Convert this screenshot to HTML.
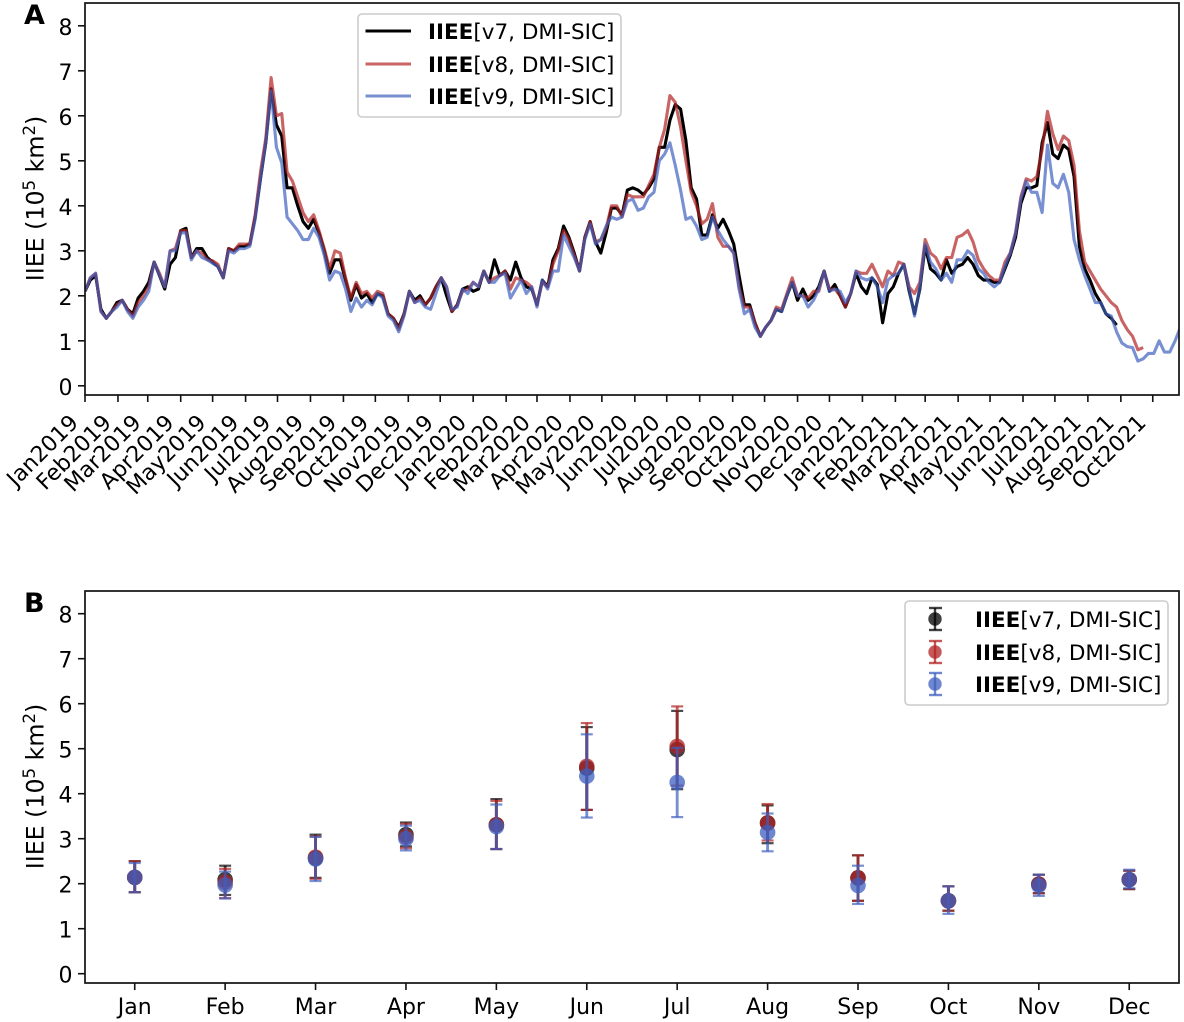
<!DOCTYPE html>
<html lang="en">
<head>
<meta charset="utf-8">
<title>IIEE chart</title>
<style>
html,body{margin:0;padding:0;background:#fff;}
svg{display:block;}
text{font-family:"DejaVu Sans","Liberation Sans",sans-serif;fill:#000;}
.tick{font-size:22px;}
.ytitle{font-size:23.7px;}
.leg{font-size:21.5px;}
.leg .b{font-weight:bold;}
.panel{font-size:27px;font-weight:bold;}
</style>
</head>
<body>
<svg id="chart" xmlns="http://www.w3.org/2000/svg" width="1184" height="1022" viewBox="0 0 1184 1022">
  <defs>
    <clipPath id="clipA"><rect x="85" y="3" width="1094" height="392"/></clipPath>
  </defs>
  <rect x="0" y="0" width="1184" height="1022" fill="#fff"/>
  <g id="panelA">
    <g id="linesA" clip-path="url(#clipA)"></g>
    <g id="ticksA"></g>
    <rect x="85" y="3" width="1094" height="392" fill="none" stroke="#111" stroke-width="1.7"/>
    <text class="panel" x="24" y="24">A</text>
    <text class="ytitle" transform="translate(43.7,198.5) rotate(-90)" text-anchor="middle">IIEE (10<tspan font-size="16.6" dy="-8.7">5</tspan><tspan dy="8.7"> km</tspan><tspan font-size="16.6" dy="-8.7">2</tspan><tspan dy="8.7">)</tspan></text>
    <g>
      <rect x="358" y="14" width="263" height="103" rx="4" fill="#fff" fill-opacity="0.8" stroke="#ccc" stroke-width="1.6"/>
      <line x1="365.5" x2="411" y1="31" y2="31" stroke="#000" stroke-width="3"/>
      <line x1="365.5" x2="411" y1="64" y2="64" stroke="#b22222" stroke-opacity="0.7" stroke-width="3"/>
      <line x1="365.5" x2="411" y1="96" y2="96" stroke="#3f5fbf" stroke-opacity="0.7" stroke-width="3"/>
      <text class="leg" x="428" y="39"><tspan class="b">IIEE</tspan>[v7, DMI-SIC]</text>
      <text class="leg" x="428" y="72"><tspan class="b">IIEE</tspan>[v8, DMI-SIC]</text>
      <text class="leg" x="428" y="104"><tspan class="b">IIEE</tspan>[v9, DMI-SIC]</text>
    </g>
  </g>
  <g id="panelB">
    <g id="marksB"></g>
    <g id="ticksB"></g>
    <rect x="85" y="591" width="1094" height="392" fill="none" stroke="#111" stroke-width="1.7"/>
    <text class="panel" x="24" y="612">B</text>
    <text class="ytitle" transform="translate(43.7,786.5) rotate(-90)" text-anchor="middle">IIEE (10<tspan font-size="16.6" dy="-8.7">5</tspan><tspan dy="8.7"> km</tspan><tspan font-size="16.6" dy="-8.7">2</tspan><tspan dy="8.7">)</tspan></text>
    <g>
      <rect x="905" y="601" width="263" height="104" rx="4" fill="#fff" fill-opacity="0.8" stroke="#ccc" stroke-width="1.6"/>
      <g stroke="#000" stroke-opacity="0.75" stroke-width="2.4">
        <line x1="935" x2="935" y1="608" y2="630"/><line x1="929" x2="942" y1="608" y2="608"/><line x1="929" x2="942" y1="630" y2="630"/>
        <circle cx="935" cy="619" r="6.7" fill="#000" fill-opacity="0.75" stroke="none"/>
      </g>
      <g stroke="#b22222" stroke-opacity="0.75" stroke-width="2.4">
        <line x1="935" x2="935" y1="641" y2="663"/><line x1="929" x2="942" y1="641" y2="641"/><line x1="929" x2="942" y1="663" y2="663"/>
        <circle cx="935" cy="652" r="6.7" fill="#b22222" fill-opacity="0.75" stroke="none"/>
      </g>
      <g stroke="#3f5fbf" stroke-opacity="0.75" stroke-width="2.4">
        <line x1="935" x2="935" y1="673" y2="695"/><line x1="929" x2="942" y1="673" y2="673"/><line x1="929" x2="942" y1="695" y2="695"/>
        <circle cx="935" cy="684" r="6.7" fill="#3f5fbf" fill-opacity="0.75" stroke="none"/>
      </g>
      <text class="leg" x="975" y="627"><tspan class="b">IIEE</tspan>[v7, DMI-SIC]</text>
      <text class="leg" x="975" y="660"><tspan class="b">IIEE</tspan>[v8, DMI-SIC]</text>
      <text class="leg" x="975" y="692"><tspan class="b">IIEE</tspan>[v9, DMI-SIC]</text>
    </g>
  </g>
</svg>
<script>
// ---------- Panel A data: IIEE samples, one every 5 days from Jan 2019 ----------
const sampleStepDays = 5;
const v7Series = [
2.1,2.35,2.45,1.7,1.5,1.65,1.85,1.9,1.7,1.6,
1.95,2.1,2.3,2.75,2.45,2.15,2.7,2.85,3.45,3.5,
2.85,3.05,3.05,2.85,2.75,2.65,2.4,3.05,3.0,3.1,
3.1,3.15,3.75,4.6,5.4,6.6,5.8,5.55,4.4,4.4,
4.0,3.65,3.5,3.7,3.4,3.0,2.5,2.8,2.8,2.35,
1.9,2.25,1.95,2.05,1.85,2.05,2.0,1.6,1.5,1.3,
1.6,2.1,1.9,2.0,1.8,1.95,2.2,2.4,2.0,1.65,
1.8,2.15,2.2,2.1,2.15,2.55,2.3,2.8,2.45,2.55,
2.35,2.75,2.4,2.2,2.15,1.8,2.35,2.2,2.8,3.05,
3.55,3.3,2.95,2.55,3.3,3.65,3.2,2.95,3.4,3.95,
3.95,3.8,4.35,4.4,4.35,4.25,4.4,4.6,5.3,5.3,
5.9,6.25,6.15,5.45,4.4,4.15,3.35,3.35,3.8,3.5,
3.7,3.45,3.15,2.45,1.8,1.8,1.4,1.1,1.3,1.45,
1.7,1.65,2.0,2.3,1.9,2.15,1.9,2.0,2.2,2.55,
2.1,2.25,2.0,1.75,2.05,2.5,2.2,2.05,2.4,2.25,
1.4,2.05,2.2,2.5,2.7,2.1,1.6,2.15,3.1,2.6,
2.5,2.35,2.8,2.5,2.65,2.7,2.85,2.7,2.45,2.35,
2.35,2.3,2.3,2.6,2.9,3.3,4.05,4.4,4.4,4.45,
5.4,5.85,5.15,5.05,5.35,5.25,4.65,3.1,2.6,2.35,
2.05,1.85,1.6,1.5,1.35
];
const v8Series = [
2.1,2.4,2.5,1.65,1.5,1.65,1.8,1.9,1.7,1.55,
1.85,2.0,2.2,2.75,2.5,2.2,3.0,3.05,3.45,3.45,
2.85,3.0,2.95,2.8,2.78,2.7,2.4,3.05,3.0,3.15,
3.15,3.15,3.8,4.75,5.5,6.85,6.0,6.05,4.75,4.55,
4.2,3.85,3.65,3.8,3.45,3.05,2.6,3.0,2.95,2.4,
1.95,2.3,2.05,2.1,1.95,2.1,2.05,1.6,1.5,1.25,
1.6,2.1,1.85,1.95,1.8,1.95,2.2,2.4,2.2,1.65,
1.8,2.1,2.15,2.3,2.2,2.55,2.3,2.4,2.45,2.55,
2.15,2.4,2.35,2.3,2.2,1.8,2.3,2.2,2.7,3.0,
3.45,3.25,2.9,2.55,3.3,3.65,3.2,3.25,3.5,4.0,
4.0,3.75,4.25,4.2,4.2,4.2,4.45,4.7,5.3,5.7,
6.45,6.3,5.75,5.0,4.3,4.0,3.6,3.7,4.05,3.3,
3.1,3.1,2.95,2.2,1.75,1.75,1.4,1.1,1.3,1.45,
1.75,1.7,2.05,2.4,2.0,2.0,1.95,2.1,2.1,2.55,
2.15,2.15,2.0,1.75,2.05,2.55,2.5,2.5,2.7,2.45,
2.2,2.55,2.45,2.75,2.7,2.2,2.05,2.3,3.25,2.95,
2.85,2.6,2.85,2.85,3.3,3.35,3.45,3.2,2.8,2.6,
2.45,2.35,2.35,2.75,2.95,3.4,4.2,4.6,4.55,4.65,
5.25,6.1,5.6,5.25,5.55,5.45,4.9,3.45,2.75,2.55,
2.35,2.15,2.0,1.85,1.75,1.45,1.25,1.1,0.8,0.85
];
const v9Series = [
2.1,2.4,2.5,1.65,1.5,1.65,1.75,1.9,1.65,1.5,
1.75,1.9,2.1,2.75,2.45,2.2,3.0,3.0,3.4,3.4,
2.8,3.0,2.85,2.8,2.72,2.65,2.4,3.0,2.95,3.05,
3.05,3.1,3.7,4.6,5.4,6.55,5.3,4.95,3.75,3.6,
3.45,3.25,3.25,3.5,3.3,2.9,2.35,2.55,2.5,2.15,
1.65,1.95,1.75,1.9,1.8,2.05,1.95,1.55,1.45,1.2,
1.55,2.1,1.85,1.9,1.75,1.7,2.05,2.4,2.2,1.7,
1.75,2.15,2.05,2.3,2.2,2.55,2.3,2.3,2.45,2.5,
1.95,2.15,2.35,2.05,2.2,1.75,2.35,2.15,2.55,2.55,
3.35,3.1,2.85,2.55,3.25,3.6,3.15,3.25,3.55,3.75,
3.7,3.75,4.1,4.15,3.9,3.95,4.2,4.3,5.0,5.15,
5.4,4.9,4.35,3.7,3.75,3.55,3.25,3.3,3.75,3.45,
3.25,3.1,2.95,2.15,1.6,1.7,1.3,1.1,1.3,1.45,
1.7,1.65,2.0,2.3,2.0,2.0,1.75,1.9,2.15,2.55,
2.1,2.15,2.1,1.85,2.05,2.55,2.4,2.35,2.4,2.2,
1.85,2.35,2.45,2.5,2.7,2.15,1.55,2.2,3.15,2.75,
2.6,2.35,2.5,2.3,2.8,2.8,3.0,2.9,2.6,2.5,
2.3,2.2,2.3,2.65,2.95,3.4,4.15,4.55,4.3,4.3,
3.85,5.35,4.5,4.4,4.7,4.3,3.25,2.8,2.45,2.15,
1.85,1.85,1.6,1.55,1.2,0.95,0.87,0.85,0.55,0.6,
0.72,0.72,1.0,0.75,0.75,1.0,1.3
];
const monthTickLabels = ["Jan2019","Feb2019","Mar2019","Apr2019","May2019","Jun2019","Jul2019","Aug2019","Sep2019","Oct2019","Nov2019","Dec2019","Jan2020","Feb2020","Mar2020","Apr2020","May2020","Jun2020","Jul2020","Aug2020","Sep2020","Oct2020","Nov2020","Dec2020","Jan2021","Feb2021","Mar2021","Apr2021","May2021","Jun2021","Jul2021","Aug2021","Sep2021","Oct2021"];
const monthTickDays = [0,31,59,90,120,151,181,212,243,273,304,334,365,396,425,456,486,517,547,578,609,639,670,700,731,762,790,821,851,882,912,943,974,1004];
const yTickValues = [0,1,2,3,4,5,6,7,8];

// ---------- Panel B data: monthly mean and error-bar limits ----------
const monthCategories = ["Jan","Feb","Mar","Apr","May","Jun","Jul","Aug","Sep","Oct","Nov","Dec"];
const v7Mean = [2.14,2.09,2.57,3.09,3.31,4.57,4.98,3.35,2.13,1.62,1.99,2.09];
const v7Low  = [1.81,1.75,2.13,2.83,2.77,3.64,4.10,2.90,1.62,1.40,1.79,1.88];
const v7High = [2.50,2.40,3.09,3.36,3.88,5.48,5.84,3.74,2.63,1.94,2.20,2.29];
const v8Mean = [2.14,2.03,2.59,3.04,3.31,4.61,5.05,3.35,2.13,1.62,1.99,2.09];
const v8Low  = [1.81,1.68,2.11,2.79,2.77,3.64,4.18,2.96,1.62,1.40,1.79,1.88];
const v8High = [2.50,2.33,3.05,3.33,3.84,5.57,5.94,3.77,2.63,1.94,2.20,2.29];
const v9Mean = [2.14,1.97,2.55,3.00,3.27,4.39,4.25,3.14,1.96,1.62,1.96,2.09];
const v9Low  = [1.81,1.67,2.06,2.74,2.77,3.47,3.48,2.72,1.55,1.33,1.73,1.90];
const v9High = [2.46,2.27,3.04,3.29,3.76,5.32,5.02,3.56,2.40,1.94,2.20,2.31];

// ---------- Axis functions ----------
function xA(day){ return 85 + day * 1.0635; }
function yA(v){ return 385.8 - v * 45; }
function xB(m){ return 85 + (m + 0.55) * 90.41; }
function yB(v){ return 973.7 - v * 45; }

const NS = "http://www.w3.org/2000/svg";
function make(tag, attrs, parent, txt){
  const e = document.createElementNS(NS, tag);
  for (const k in attrs) e.setAttribute(k, attrs[k]);
  if (txt !== undefined) e.textContent = txt;
  parent.appendChild(e);
  return e;
}
const ticksA = document.getElementById("ticksA");
const ticksB = document.getElementById("ticksB");
const linesA = document.getElementById("linesA");
const marksB = document.getElementById("marksB");

// Panel A lines
function drawLine(values, color, opacity, name){
  const d = values.map((v, i) => (i ? "L" : "M") + xA(i * sampleStepDays).toFixed(2) + " " + yA(v).toFixed(2)).join("");
  const p = make("path", {d: d, fill: "none", stroke: color, "stroke-opacity": opacity, "stroke-width": 3.1, "stroke-linejoin": "round"}, linesA);
  
  
}
drawLine(v7Series, "#000", 1, "line-v7");
drawLine(v8Series, "#b22222", 0.7, "line-v8");
drawLine(v9Series, "#3f5fbf", 0.7, "line-v9");

// Panel A x ticks
monthTickDays.forEach((day, i) => {
  const x = xA(day);
  const t = make("line", {x1: x, x2: x, y1: 395, y2: 402, stroke: "#111", "stroke-width": 1.6}, ticksA);
  
  
  const l = make("text", {"class": "tick", "text-anchor": "end", transform: "translate(" + (x - 5.5).toFixed(2) + ",424) rotate(-45)"}, ticksA, monthTickLabels[i]);
  
  
});

// Y ticks on both panels
function drawYTicks(group, yFn){
  yTickValues.forEach(v => {
    const y = yFn(v);
    const t = make("line", {x1: 78, x2: 85, y1: y, y2: y, stroke: "#111", "stroke-width": 1.6}, group);
    
    
    const l = make("text", {"class": "tick", "text-anchor": "end", x: 72.5, y: y + 9}, group, String(v));
    
    
  });
}
drawYTicks(ticksA, yA);
drawYTicks(ticksB, yB);

// Panel B x ticks
monthCategories.forEach((m, i) => {
  const x = xB(i);
  const t = make("line", {x1: x, x2: x, y1: 983, y2: 990, stroke: "#111", "stroke-width": 1.6}, ticksB);
  
  
  const l = make("text", {"class": "tick", "text-anchor": "middle", x: x, y: 1014}, ticksB, m);
  
  
});

// Panel B error bars and points
function drawErrors(means, lows, highs, color, name){
  means.forEach((v, i) => {
    const x = xB(i);
    const g = make("g", {}, marksB);
    
    
    make("line", {x1: x, x2: x, y1: yB(lows[i]), y2: yB(highs[i]), stroke: color, "stroke-opacity": 0.7, "stroke-width": 2.9}, g);
    make("line", {x1: x - 6, x2: x + 6, y1: yB(lows[i]), y2: yB(lows[i]), stroke: color, "stroke-opacity": 0.7, "stroke-width": 2.2}, g);
    make("line", {x1: x - 6, x2: x + 6, y1: yB(highs[i]), y2: yB(highs[i]), stroke: color, "stroke-opacity": 0.7, "stroke-width": 2.2}, g);
    make("circle", {cx: x, cy: yB(v), r: 7.8, fill: color, "fill-opacity": 0.75}, g);
  });
}
drawErrors(v7Mean, v7Low, v7High, "#000", "point-v7");
drawErrors(v8Mean, v8Low, v8High, "#b22222", "point-v8");
drawErrors(v9Mean, v9Low, v9High, "#3f5fbf", "point-v9");
</script>
</body>
</html>
